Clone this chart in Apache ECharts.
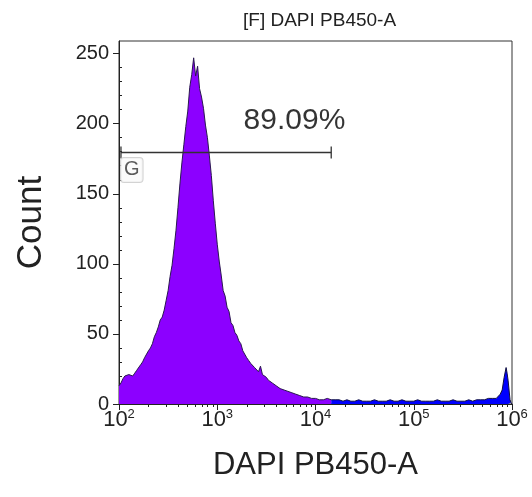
<!DOCTYPE html>
<html>
<head>
<meta charset="utf-8">
<script src="https://cdn.jsdelivr.net/npm/echarts@6/dist/echarts.min.js"></script>
<style>html,body{margin:0;padding:0;background:#fff;}#c{width:532px;height:497px;}</style>
</head>
<body>
<div id="c"></div>
<script>
// x values are log10(DAPI PB450-A intensity)
const dapiLog = [
 2.00,2.02,2.04,2.06,2.08,2.10,2.12,2.14,2.16,2.18,2.20,2.22,2.24,2.26,2.28,2.30,2.32,2.34,2.36,2.38,
 2.40,2.42,2.44,2.46,2.48,2.50,2.52,2.54,2.56,2.58,2.60,2.62,2.64,2.66,2.68,2.70,2.72,2.74,2.76,2.78,
 2.80,2.82,2.84,2.86,2.88,2.90,2.92,2.94,2.96,2.98,3.00,3.02,3.04,3.06,3.08,3.10,3.12,3.14,3.16,3.18,
 3.20,3.22,3.24,3.26,3.28,3.30,3.32,3.34,3.36,3.38,3.40,3.42,3.44,3.46,3.48,3.50,3.52,3.54,3.56,3.58,
 3.60,3.62,3.64,3.66,3.68,3.70,3.72,3.74,3.76,3.78,3.80,3.82,3.84,3.86,3.88,3.90,3.92,3.94,3.96,3.98,
 4.00,4.02,4.04,4.06,4.08,4.10,4.12,4.14,4.16,4.18,4.20,
 4.24,4.28,4.32,4.36,4.40,4.44,4.48,4.52,4.56,4.60,4.64,4.68,4.72,4.76,4.80,4.84,4.88,4.92,4.96,5.00,
 5.04,5.08,5.12,5.16,5.20,5.24,5.28,5.32,5.36,5.40,5.44,5.48,5.52,5.56,5.60,5.64,5.68,5.72,5.76,5.80,5.84,
 5.86,5.88,5.90,5.92,5.94,5.95,5.96,5.97,5.98,5.99,6.00
];
const counts = [
 13,15,18,20,19,21,22,20,22,24,25,28,30,33,34,38,40,43,48,51,
 55,60,62,67,74,81,91,99,111,124,140,157,172,185,198,209,226,235,247,234,
 241,225,219,211,199,190,177,163,145,129,114,102,92,81,77,69,66,58,56,51,
 49,45,43,38,37,33,31,29,28,26,26,23,27,21,20,19,17,16,15,14,
 13,12,11,10,10,9,9,8,8,7,7,7,6,6,5,6,5,5,4,5,
 4,4,3,4,3,3,4,3,3,4,3,
 3,2,3,2,2,3,2,2,2,3,2,2,2,3,2,2,3,2,2,2,
 3,2,2,2,2,3,2,2,2,3,2,2,2,3,2,3,3,3,4,4,4,
 5,7,10,19,26,22,17,10,3,1,0
];
const xTickExps = [2, 3, 4, 5, 6];
const yTicks = [0, 50, 100, 150, 200, 250];
const gateName = 'G';
const gatePct = '89.09%';
const gateFrom = 2.02;   // log10 of gate start
const gateTo = 4.16;     // log10 of gate end
const gateLevel = 179.5; // drawn at this count level
const titleText = '[F] DAPI PB450-A';
const xName = 'DAPI PB450-A';
const yName = 'Count';

const inGate = [], outGate = [];
dapiLog.forEach((x, i) => {
  if (x <= gateTo) inGate.push([x, counts[i]]);
  if (x >= gateTo) outGate.push([x, counts[i]]);
});

const xMinor = [];
for (let d = 2; d < 6; d++) for (let k = 2; k <= 9; k++) xMinor.push(d + Math.log10(k));
const yMinor = [];
for (let v = 10; v < 259; v += 10) if (v % 50) yMinor.push(v);

const FONT = 'Liberation Sans';
const chart = echarts.init(document.getElementById('c'), null, {renderer: 'canvas'});
chart.setOption({
  animation: false,
  backgroundColor: '#fff',
  textStyle: {fontFamily: FONT},
  title: {
    text: titleText, left: 238, top: 6,
    textStyle: {fontFamily: FONT, fontSize: 19, fontWeight: 'normal', color: '#222'}
  },
  grid: {left: 119, right: 20, top: 41, bottom: 93, show: true, borderColor: '#333', borderWidth: 1, backgroundColor: 'transparent'},
  xAxis: [{
    type: 'value', min: 2, max: 6, interval: 1,
    name: xName, nameLocation: 'middle', nameGap: 46,
    nameTextStyle: {fontFamily: FONT, fontSize: 31, color: '#222'},
    axisLine: {show: true, lineStyle: {color: '#222', width: 1}},
    axisTick: {show: true, length: 6, lineStyle: {color: '#222'}, customValues: xTickExps},
    splitLine: {show: false},
    axisLabel: {
      margin: 4, customValues: xTickExps,
      formatter: v => '{b|10}{s|' + Math.round(v) + '}',
      rich: {
        b: {fontFamily: FONT, fontSize: 22, color: '#222', verticalAlign: 'bottom'},
        s: {fontFamily: FONT, fontSize: 13, color: '#222', verticalAlign: 'bottom', padding: [0, 0, 10, 0]}
      }
    }
  }, {
    type: 'value', min: 2, max: 6, position: 'bottom', gridIndex: 0,
    axisLine: {show: false}, splitLine: {show: false},
    axisLabel: {show: false},
    axisTick: {show: true, length: 3, lineStyle: {color: '#222'}, customValues: xMinor}
  }],
  yAxis: [{
    type: 'value', min: 0, max: 259,
    name: yName, nameLocation: 'middle', nameGap: 70,
    nameTextStyle: {fontFamily: FONT, fontSize: 35, color: '#222'},
    axisLine: {show: true, lineStyle: {color: '#222', width: 1}},
    axisTick: {show: true, length: 6, lineStyle: {color: '#222'}, customValues: yTicks},
    splitLine: {show: false},
    axisLabel: {margin: 10, customValues: yTicks, fontFamily: FONT, fontSize: 20, color: '#222'}
  }, {
    type: 'value', min: 0, max: 259, position: 'left', gridIndex: 0,
    axisLine: {show: false}, splitLine: {show: false}, axisLabel: {show: false},
    axisTick: {show: true, inside: true, length: 3, lineStyle: {color: '#222'}, customValues: yMinor}
  }],
  series: [{
    type: 'line', data: inGate, showSymbol: false, symbol: 'none',
    lineStyle: {color: '#2a1850', width: 1},
    areaStyle: {color: '#8c00ff', opacity: 1}, z: 3
  }, {
    type: 'line', data: outGate, showSymbol: false, symbol: 'none',
    lineStyle: {color: '#101040', width: 1},
    areaStyle: {color: '#0000ff', opacity: 1}, z: 3
  }, {
    type: 'line', data: [[gateFrom, gateLevel], [gateTo, gateLevel]],
    symbol: 'rect', symbolSize: [1.3, 12], showSymbol: true,
    itemStyle: {color: '#333'},
    lineStyle: {color: '#333', width: 1.5}, z: 5, silent: true
  }, {
    type: 'scatter', symbolSize: 0, z: 6,
    data: [[3.786, 202]],
    label: {show: true, position: 'inside', formatter: gatePct, fontFamily: FONT, fontSize: 30, color: '#000'}
  }, {
    type: 'scatter', symbolSize: 0, z: 6,
    data: [[2.13, 167]],
    label: {show: true, position: 'inside', formatter: gateName, fontFamily: FONT, fontSize: 20, color: '#333',
      backgroundColor: '#fafafa', borderColor: '#c8c8c8', borderWidth: 1, borderRadius: 3, padding: [3, 3, 1, 3]}
  }]
});
</script>
</body>
</html>
